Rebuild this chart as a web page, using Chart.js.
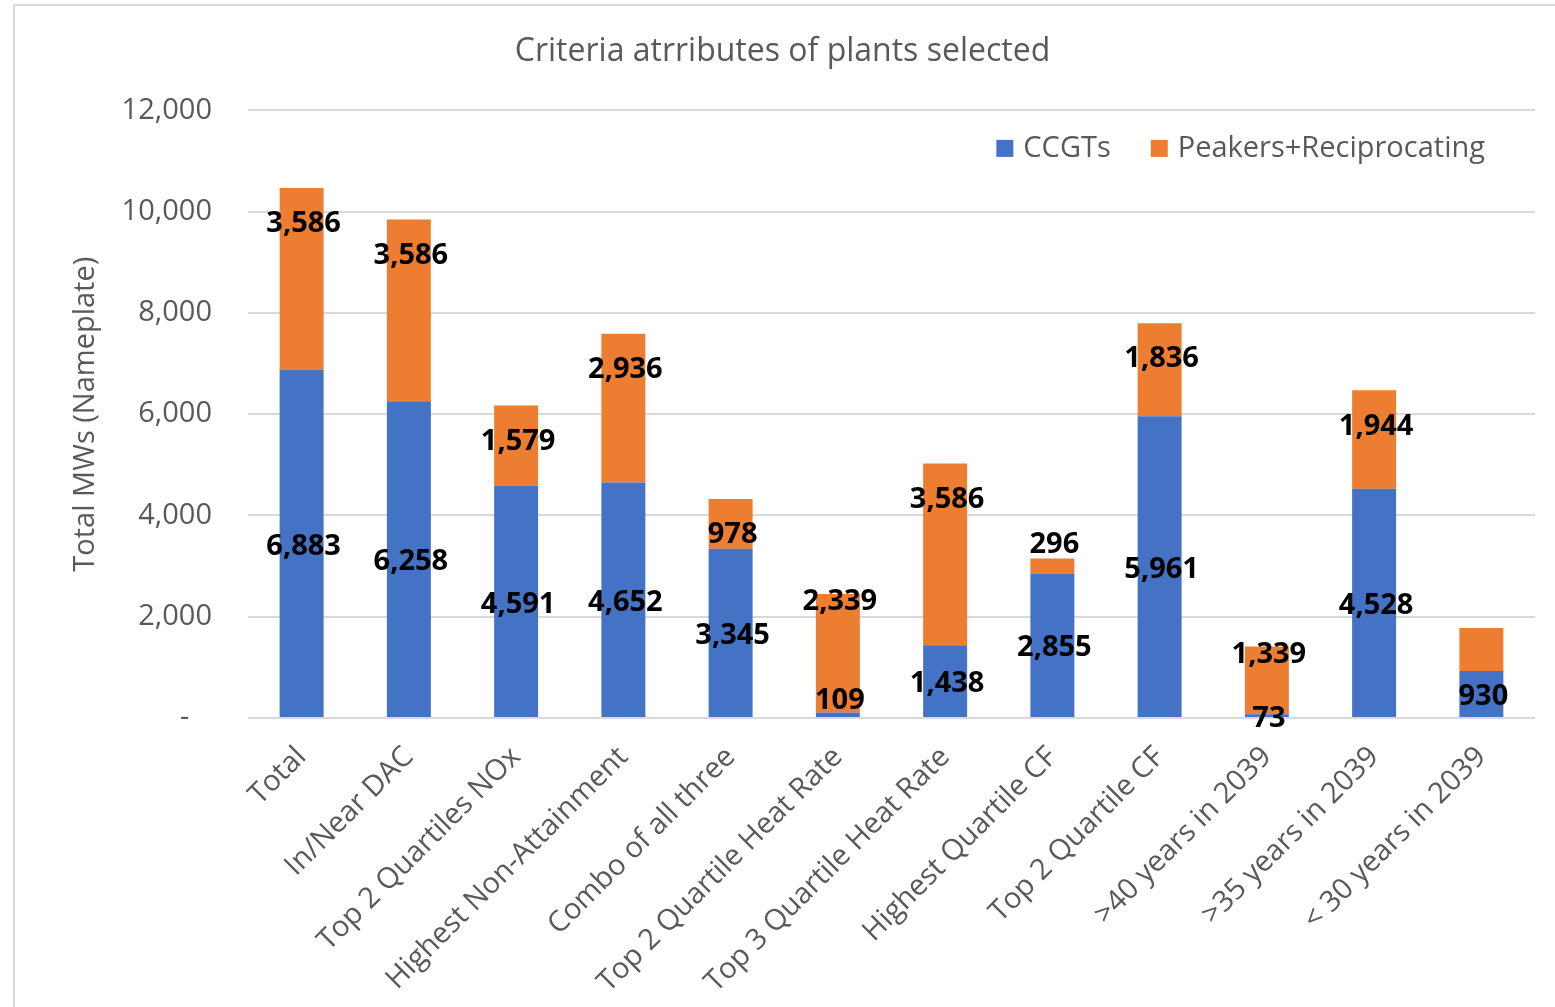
<!DOCTYPE html>
<html>
<head>
<meta charset="utf-8">
<script src="https://cdn.jsdelivr.net/npm/chart.js@4"></script>
<style>
  body { margin: 0; background: #fff; }
  canvas { display: block; }
</style>
</head>
<body>
<canvas id="myChart" width="1555" height="1007"></canvas>
<script>
// data
const categories = ["Total", "In/Near DAC", "Top 2 Quartiles NOx", "Highest Non-Attainment", "Combo of all three",
  "Top 2 Quartile Heat Rate", "Top 3 Quartile Heat Rate", "Highest Quartile CF", "Top 2 Quartile CF",
  ">40 years in 2039", ">35 years in 2039", "< 30 years in 2039"]
const ccgts = [6883, 6258, 4591, 4652, 3345, 109, 1438, 2855, 5961, 73, 4528, 930]
const peakers = [3586, 3586, 1579, 2936, 978, 2339, 3586, 296, 1836, 1339, 1944, 846]
const peakersLabelShown = [true, true, true, true, true, true, true, true, true, true, true, false]
const yTicks = [0, 2000, 4000, 6000, 8000, 10000, 12000]

const gray = "#595959"
const fontFamily = "'Open Sans', sans-serif"

const fmt = v => v.toLocaleString("en-US")

// frame round the whole chart
const framePlugin = {
  id: "frame",
  beforeDraw(chart) {
    const c = chart.ctx
    c.save()
    c.fillStyle = "#fff"
    c.fillRect(0, 0, chart.width, chart.height)
    c.strokeStyle = "#d9d9d9"
    c.lineWidth = 2
    c.strokeRect(14, 5, chart.width + 40, chart.height + 40)
    c.restore()
  }
}

// value labels on the bars
const barLabels = {
  id: "barLabels",
  afterDatasetsDraw(chart) {
    const c = chart.ctx
    c.save()
    c.font = "bold 29px " + fontFamily
    c.fillStyle = "#000"
    c.textAlign = "center"
    c.textBaseline = "middle"
    const blue = chart.getDatasetMeta(0).data
    blue.forEach((el, i) => {
      let y = (el.y + el.base) / 2 + 3
      // tiny segment under a big one: nudge up a little, like the original
      if (el.base - el.y < 8 && ccgts[i] > 100) y = el.base - 16
      c.fillText(fmt(ccgts[i]), el.x + 2, y)
    })
    chart.getDatasetMeta(1).data.forEach((el, i) => {
      if (!peakersLabelShown[i]) return
      const h = el.base - el.y
      const blueH = blue[i].base - blue[i].y
      let y
      if (h < 25) y = el.y - 14
      else if (blueH < 10) y = el.y + 8
      else y = el.y + 36
      c.fillText(fmt(peakers[i]), el.x + 2, y)
    })
    c.restore()
  }
}

// legend sitting inside the plot, top right
const insideLegend = {
  id: "insideLegend",
  afterDraw(chart) {
    const c = chart.ctx
    const area = chart.chartArea
    c.save()
    c.font = "29px " + fontFamily
    c.textBaseline = "middle"
    const items = chart.data.datasets.map(d => ({ text: d.label, color: d.backgroundColor }))
    const box = 17, gapText = 10, gapItem = 40
    let total = 0
    items.forEach((it, i) => {
      it.w = box + gapText + c.measureText(it.text).width
      total += it.w + (i ? gapItem : 0)
    })
    let x = area.right - 50 - total
    const y = area.top + 38
    items.forEach(it => {
      c.fillStyle = it.color
      c.fillRect(x, y - box / 2, box, box)
      c.fillStyle = gray
      c.fillText(it.text, x + box + gapText, y)
      x += it.w + gapItem
    })
    c.restore()
  }
}

let myChart = new Chart(document.querySelector("#myChart").getContext("2d"), {
  type: "bar",
  data: {
    labels: categories,
    datasets: [{
      label: "CCGTs",
      data: ccgts,
      backgroundColor: "#4472C4",
      barPercentage: 0.41,
      categoryPercentage: 1
    }, {
      label: "Peakers+Reciprocating",
      data: peakers,
      backgroundColor: "#ED7D31",
      barPercentage: 0.41,
      categoryPercentage: 1
    }]
  },
  options: {
    responsive: false,
    animation: false,
    layout: {
      padding: { left: 30, right: 20, top: 0, bottom: 0 }
    },
    plugins: {
      legend: { display: false },
      tooltip: { enabled: false },
      title: {
        display: true,
        text: "Criteria atrributes of plants selected",
        color: gray,
        font: { family: fontFamily, size: 32, weight: "normal" },
        padding: { top: 33, bottom: 39 }
      }
    },
    scales: {
      x: {
        stacked: true,
        grid: { display: false },
        border: { display: false },
        ticks: {
          color: gray,
          font: { family: fontFamily, size: 29 },
          minRotation: 45,
          maxRotation: 45,
          padding: 14,
          autoSkip: false
        },
        afterFit(scale) { scale.height = 289 }
      },
      y: {
        stacked: true,
        min: 0,
        max: 12000,
        afterBuildTicks(scale) { scale.ticks = yTicks.map(v => ({ value: v })) },
        grid: { color: "#d9d9d9", lineWidth: 2, drawTicks: false },
        border: { display: false },
        ticks: {
          color: gray,
          font: { family: fontFamily, size: 29 },
          padding: 36,
          callback: v => v === 0 ? "-   " : fmt(v)
        },
        title: {
          display: true,
          text: "Total MWs (Nameplate)",
          color: gray,
          font: { family: fontFamily, size: 29 },
          padding: { top: 38, bottom: 0 }
        },
        afterFit(scale) { scale.width = 218 }
      }
    }
  },
  plugins: [framePlugin, barLabels, insideLegend]
})
</script>
</body>
</html>
